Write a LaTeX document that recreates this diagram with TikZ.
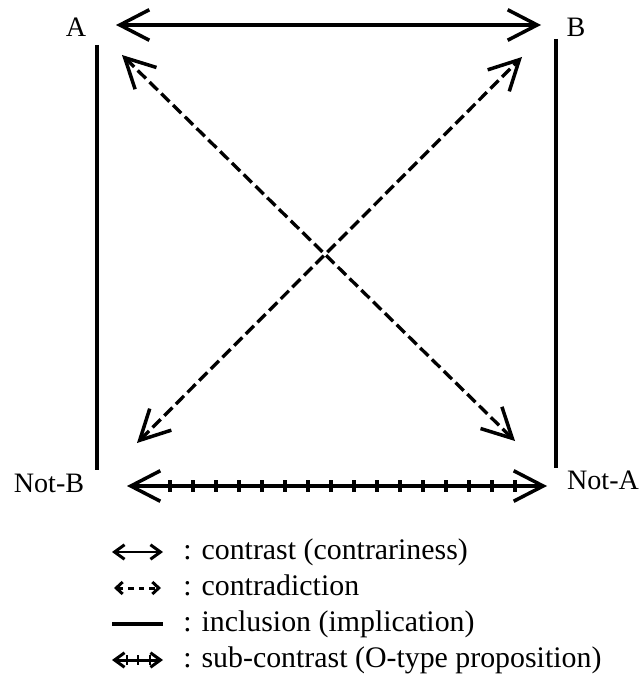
\documentclass[tikz,border=0pt]{standalone}
\usepackage{fontspec}
\setmainfont{Liberation Serif}
\usetikzlibrary{arrows.meta}

\tikzset{
  bigbarb/.tip={Straight Barb[length=5.9mm,width=6.1mm,line width=2pt]},
  smallbarb/.tip={Straight Barb[length=2mm,width=2.9mm,line width=1.7pt]},
  tinybarb/.tip={Straight Barb[length=1.3mm,width=2.4mm,line width=1.7pt]},
  lbl/.style={font=\fontsize{16}{19}\selectfont},
  leg/.style={font=\fontsize{17}{20}\selectfont,anchor=base west,inner sep=0pt},
  contrast/.style={line width=2pt,bigbarb-bigbarb},
  contra/.style={line width=1.9pt,dash pattern=on 0.23cm off 0.1cm,bigbarb-bigbarb},
  incl/.style={line width=2pt},
  tick/.style={line width=1.9pt}
}

\begin{document}
\begin{tikzpicture}[x=0.02cm,y=-0.02cm]
\useasboundingbox (0,0) rectangle (644,675);

% corner labels
\node[lbl] (a) at (76,27) {A};
\node[lbl] (b) at (576,27) {B};
\node[lbl] (nb) at (49,483) {Not-B};
\node[lbl] (na) at (603,480) {Not-A};

% end points of the connectors
\coordinate (aR) at (116,25);
\coordinate (bL) at (541,25);
\coordinate (aD) at (97,45);
\coordinate (nbU) at (97,470);
\coordinate (bD) at (556,39);
\coordinate (naU) at (556,468);
\coordinate (nbR) at (127,486);
\coordinate (naL) at (547,486);
\coordinate (aX) at (122,55);
\coordinate (naX) at (515,441);
\coordinate (nbX) at (137,443);
\coordinate (bX) at (522,57);

% contrast
\draw[contrast] (aR) -- (bL);
% inclusion
\draw[incl] (aD) -- (nbU);
\draw[incl] (bD) -- (naU);
% contradiction
\draw[contra] (aX) -- (naX);
\draw[contra] (nbX) -- (bX);
% sub-contrast
\draw[contrast] (nbR) -- (naL);
\foreach \x in {170,193,...,520}
  \draw[tick] (\x,480) -- (\x,492);

% legend
\foreach \y/\t in {552/{: contrast (contrariness)},588/{: contradiction},
                   624/{: inclusion (implication)},660/{: sub-contrast (O-type proposition)}}
  \node[leg] (leg\y) at (183,\y+7) {\t};

\draw[line width=1.7pt,smallbarb-smallbarb] (112,552) -- (163,552);
\draw[line width=1.7pt,dash pattern=on 3.2pt off 2.8pt,tinybarb-tinybarb] (114,588) -- (161,588);
\draw[line width=1.9pt] (112,624) -- (163,624);
\draw[line width=1.7pt,smallbarb-smallbarb] (112,660) -- (163,660);
\foreach \x in {127,138,150}
  \draw[line width=1.5pt] (\x,655) -- (\x,665);
\end{tikzpicture}
\end{document}
